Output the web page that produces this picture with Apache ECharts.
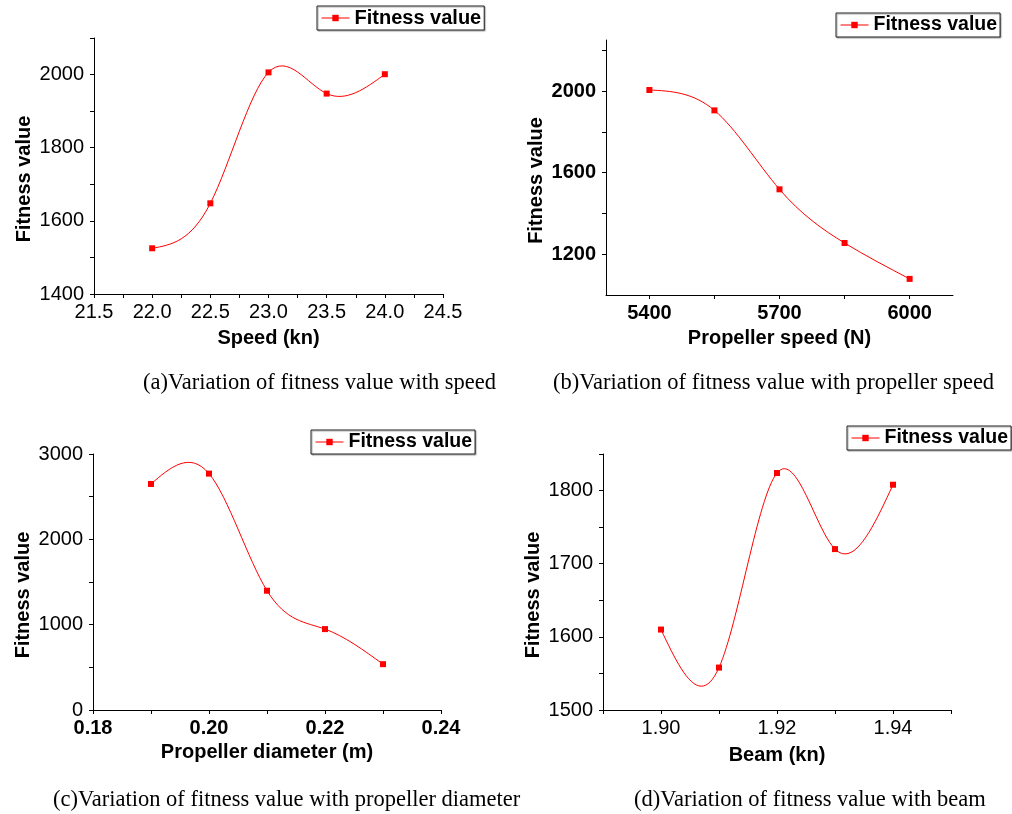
<!DOCTYPE html>
<html><head><meta charset="utf-8">
<script src="https://cdn.jsdelivr.net/npm/echarts@6/dist/echarts.min.js"></script>
<style>html,body{margin:0;padding:0;background:#fff}#c{width:1012px;height:814px}</style>
</head><body><div id="c"></div>
<script>
// ---- data ----
const speedX = [22.0, 22.5, 23.0, 23.5, 24.0];
const speedY = [1525, 1648, 2006, 1948, 2001];
const propSpeedX = [5400, 5550, 5700, 5850, 6000];
const propSpeedY = [2005, 1905, 1518, 1255, 1079];
const diamX = [0.19, 0.20, 0.21, 0.22, 0.23];
const diamY = [2649, 2770, 1398, 948, 537];
const beamX = [1.90, 1.91, 1.92, 1.93, 1.94];
const beamY = [1610, 1558, 1824, 1720, 1808];

// ---- tick labels / tick positions ----
const speedLabels = [21.5, 22.0, 22.5, 23.0, 23.5, 24.0, 24.5];
const speedTicks = [21.5, 21.75, 22.0, 22.25, 22.5, 22.75, 23.0, 23.25, 23.5, 23.75, 24.0, 24.25, 24.5];
const fitALabels = [1400, 1600, 1800, 2000];
const fitATicks = [1400, 1500, 1600, 1700, 1800, 1900, 2000, 2100];
const propSpeedLabels = [5400, 5700, 6000];
const propSpeedTicks = [5400, 5550, 5700, 5850, 6000];
const fitBLabels = [1200, 1600, 2000];
const fitBTicks = [1200, 1400, 1600, 1800, 2000, 2200];
const diamLabels = [0.18, 0.20, 0.22, 0.24];
const diamTicks = [0.18, 0.19, 0.20, 0.21, 0.22, 0.23, 0.24];
const fitCLabels = [0, 1000, 2000, 3000];
const fitCTicks = [0, 500, 1000, 1500, 2000, 2500, 3000];
const beamLabels = [1.90, 1.92, 1.94];
const beamTicks = [1.89, 1.90, 1.91, 1.92, 1.93, 1.94, 1.95];
const fitDLabels = [1500, 1600, 1700, 1800];
const fitDTicks = [1500, 1550, 1600, 1650, 1700, 1750, 1800, 1850];

const seriesName = 'Fitness value';
const xNames = ['Speed (kn)', 'Propeller speed (N)', 'Propeller diameter (m)', 'Beam (kn)'];
const yName = 'Fitness value';
const captions = [
  '(a)Variation of fitness value with speed',
  '(b)Variation of fitness value with propeller speed',
  '(c)Variation of fitness value with propeller diameter',
  '(d)Variation of fitness value with beam'
];

// ---- layout ----
const SANS = 'Liberation Sans';
const SERIF = 'Liberation Serif';
const grids = [
  {left: 94, top: 38, width: 349, height: 256},
  {left: 606, top: 40, width: 347, height: 255},
  {left: 93, top: 454, width: 348, height: 256},
  {left: 603, top: 454, width: 348, height: 256}
];
const ranges = [
  {x: [21.5, 24.5], y: [1400, 2100]},
  {x: [5300, 6100], y: [1000, 2250]},
  {x: [0.18, 0.24], y: [0, 3000]},
  {x: [1.89, 1.95], y: [1500, 1850]}
];
const xLab = [speedLabels, propSpeedLabels, diamLabels, beamLabels];
const xTick = [speedTicks, propSpeedTicks, diamTicks, beamTicks];
const yLab = [fitALabels, fitBLabels, fitCLabels, fitDLabels];
const yTick = [fitATicks, fitBTicks, fitCTicks, fitDTicks];
const xDec = [1, 0, 2, 2];
const xBold = [false, true, true, false];
const yBold = [false, true, false, false];
const xNameGap = [34, 33, 32, 35];
const legendPos = [
  {left: 317, top: 6, font: 20},
  {left: 836, top: 13, font: 19.5},
  {left: 311, top: 430, font: 19.5},
  {left: 847, top: 426, font: 19.5}
];
const captionPos = [
  {left: 143, top: 372},
  {left: 553, top: 372},
  {left: 53, top: 789},
  {left: 634, top: 789}
];
const xs = [speedX, propSpeedX, diamX, beamX];
const ys = [speedY, propSpeedY, diamY, beamY];

// natural cubic spline end slopes (rendering of the connecting curve, like Origin's "Spline" line)
function splineSlopes(X, Y) {
  const n = X.length, h = [], M = new Array(n).fill(0), cp = [], dp = [];
  for (let i = 0; i < n - 1; i++) h[i] = X[i + 1] - X[i];
  for (let i = 1; i < n - 1; i++) {
    const a = h[i - 1], b = 2 * (h[i - 1] + h[i]), c = h[i];
    const d = 6 * ((Y[i + 1] - Y[i]) / h[i] - (Y[i] - Y[i - 1]) / h[i - 1]);
    const m = b - (i > 1 ? a * cp[i - 1] : 0);
    cp[i] = c / m;
    dp[i] = (d - (i > 1 ? a * dp[i - 1] : 0)) / m;
  }
  for (let i = n - 2; i >= 1; i--) M[i] = dp[i] - cp[i] * M[i + 1];
  const s = [];
  for (let i = 0; i < n - 1; i++) s[i] = (Y[i + 1] - Y[i]) / h[i] - h[i] * (2 * M[i] + M[i + 1]) / 6;
  s[n - 1] = (Y[n - 1] - Y[n - 2]) / h[n - 2] + h[n - 2] * (M[n - 2] + 2 * M[n - 1]) / 6;
  return s;
}

const axisLine = {show: true, onZero: false, lineStyle: {color: '#000', width: 1}};

const curveSeries = xs.map((X, i) => {
  const Y = ys[i];
  const S = splineSlopes(X, Y);
  return {
    type: 'custom', xAxisIndex: i, yAxisIndex: i, z: 1, silent: true,
    data: X.map((v, k) => [v, Y[k]]),
    renderItem: (params, api) => {
      const k = params.dataIndex;
      if (k >= X.length - 1) return {type: 'group', children: []};
      const x0 = X[k], x1 = X[k + 1], y0 = Y[k], y1 = Y[k + 1], h = x1 - x0;
      const p0 = api.coord([x0, y0]);
      const c1 = api.coord([x0 + h / 3, y0 + S[k] * h / 3]);
      const c2 = api.coord([x1 - h / 3, y1 - S[k + 1] * h / 3]);
      const p1 = api.coord([x1, y1]);
      return {
        type: 'bezierCurve',
        shape: {x1: p0[0], y1: p0[1], cpx1: c1[0], cpy1: c1[1], cpx2: c2[0], cpy2: c2[1], x2: p1[0], y2: p1[1]},
        style: {stroke: '#ff0000', lineWidth: 1, fill: null}
      };
    }
  };
});

const markerSeries = xs.map((X, i) => ({
  name: seriesName, type: 'line', xAxisIndex: i, yAxisIndex: i, z: 3,
  data: X.map((v, k) => [v, ys[i][k]]),
  symbol: 'rect', symbolSize: 6,
  itemStyle: {color: '#ff0000'},
  lineStyle: {color: '#ff0000', width: 1, opacity: 0},
  emphasis: {disabled: true}
}));

const option = {
  animation: false,
  backgroundColor: '#fff',
  grid: grids.map(g => Object.assign({containLabel: false}, g)),
  title: captions.map((t, i) => ({
    text: t, left: captionPos[i].left, top: captionPos[i].top, padding: 0,
    textStyle: {fontFamily: SERIF, fontSize: 22.5, fontWeight: 'normal', color: '#000'}
  })),
  legend: legendPos.map(p => ({
    data: [seriesName], left: p.left, top: p.top, orient: 'horizontal',
    padding: [2, 3, 2, 4], itemWidth: 28, itemHeight: 8,
    borderColor: '#222', borderWidth: 1, backgroundColor: '#fff',
    shadowColor: 'rgba(0,0,0,0.35)', shadowOffsetX: 1, shadowOffsetY: 1, shadowBlur: 1,
    selectedMode: false,
    lineStyle: {color: '#ff0000', width: 1, opacity: 1, type: 'solid'},
    textStyle: {fontFamily: SANS, fontSize: p.font, fontWeight: 'bold', color: '#000'}
  })),
  xAxis: grids.map((g, i) => ({
    type: 'value', gridIndex: i, min: ranges[i].x[0], max: ranges[i].x[1],
    name: xNames[i], nameLocation: 'middle', nameGap: xNameGap[i],
    nameTextStyle: {fontFamily: SANS, fontSize: 20, fontWeight: 'bold', color: '#000'},
    axisLine: axisLine,
    axisTick: {show: true, inside: false, length: 4, customValues: xTick[i], lineStyle: {color: '#000'}},
    axisLabel: {
      customValues: xLab[i], margin: 8, color: '#000', fontFamily: SANS, fontSize: 20,
      fontWeight: xBold[i] ? 'bold' : 'normal',
      formatter: v => Number(v).toFixed(xDec[i])
    },
    splitLine: {show: false}
  })),
  yAxis: grids.map((g, i) => ({
    type: 'value', gridIndex: i, min: ranges[i].y[0], max: ranges[i].y[1],
    name: yName, nameLocation: 'middle', nameGap: 60, nameRotate: 90,
    nameTextStyle: {fontFamily: SANS, fontSize: 20, fontWeight: 'bold', color: '#000', padding: [0, 26, 0, 0]},
    axisLine: axisLine,
    axisTick: {show: true, inside: false, length: 4, customValues: yTick[i], lineStyle: {color: '#000'}},
    axisLabel: {
      customValues: yLab[i], margin: 10, color: '#000', fontFamily: SANS, fontSize: 20,
      fontWeight: yBold[i] ? 'bold' : 'normal',
      formatter: v => String(Math.round(v))
    },
    splitLine: {show: false}
  })),
  series: curveSeries.concat(markerSeries)
};

const chart = echarts.init(document.getElementById('c'), null, {renderer: 'canvas'});
chart.setOption(option);
</script>
</body></html>
